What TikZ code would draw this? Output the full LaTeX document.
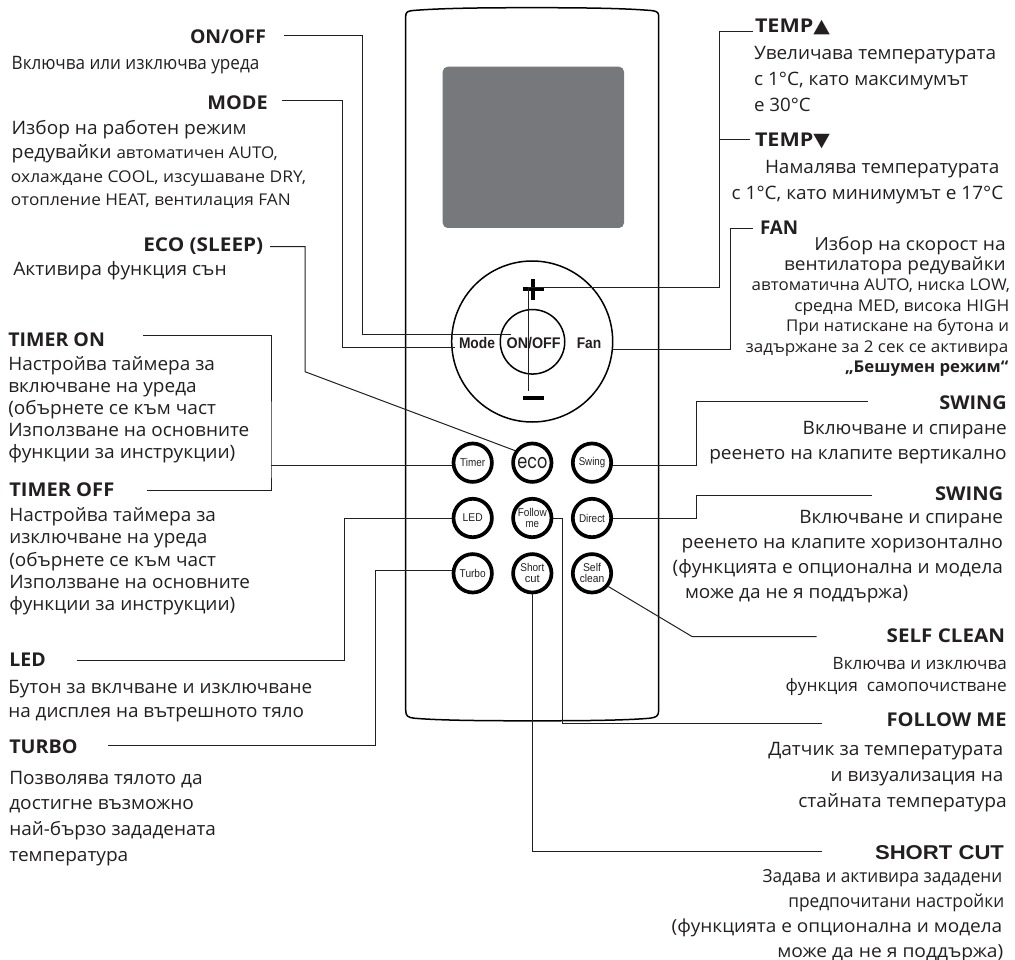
\documentclass[tikz,border=0pt]{standalone}
\usepackage{fontspec}
\usepackage{graphicx}
\setmainfont{Open Sans}
\newfontfamily\arialf{Liberation Sans}
\newfontfamily\symf{DejaVu Sans}
\newfontfamily\ecof{Poppins}
\definecolor{ink}{HTML}{231F20}
\definecolor{screen}{HTML}{77787B}
\newsavebox\fitbox
\newcommand\flr[2]{\mbox{\sbox\fitbox{#2}\pgfmathsetmacro\fitr{#1/\wd\fitbox}\scalebox{\fitr}[1]{\usebox\fitbox}}}
\newcommand\fl[2]{\sbox\fitbox{#2}\pgfmathsetmacro\fitr{#1/\wd\fitbox}\rule{0pt}{15pt}\scalebox{\fitr}[1]{\usebox\fitbox}}
\newcommand\sm{\fontsize{16.2}{16.2}\selectfont}
% left / right aligned text blocks: name, x, first baseline, line skip, size, lines
\newcommand\blkL[6]{\node[txt,anchor=north west,font=\fontsize{#5}{#4}\selectfont] (#1) at (#2,{#3-15}) {\vbox{\lineskiplimit=-100pt\let\\\cr\halign{##\hfil\cr #6\cr}}};}
\newcommand\blkR[6]{\node[txt,anchor=north east,font=\fontsize{#5}{#4}\selectfont] (#1) at (#2,{#3-15}) {\vbox{\lineskiplimit=-100pt\let\\\cr\halign{\hfil##\cr #6\cr}}};}
% headings: name, anchor, x, baseline, width, text
\newcommand\hd[6]{\node[txt,anchor=#2,font=\fontsize{19}{19}\selectfont\bfseries] (#1) at (#3,#4) {\fl{#5}{#6}};}
\tikzset{
  txt/.style={inner sep=0pt,outer sep=0pt,text=ink},
  conn/.style={draw=ink,line width=1pt},
  body/.style={draw=black,line width=1.5pt},
  ring/.style={circle,draw=black,line width=1.5pt,inner sep=0pt},
  btn/.style={circle,draw=black,line width=3.7pt,inner sep=0pt,minimum size=38.4pt,align=center,text=ink,font=\arialf\fontsize{11.3}{11}\selectfont},
  keylabel/.style={inner sep=0pt,anchor=base,text=ink,font=\arialf\bfseries\fontsize{15.4}{15.4}\selectfont},
  bar/.style={fill=black,draw=none}
}
\begin{document}
\begin{tikzpicture}[x=1pt,y=-1pt]
\path[use as bounding box] (0,0) rectangle (1015,960);
% remote body
\draw[body] (405.7,710) -- (405.7,16) .. controls (405.7,12) and (408,11.2) .. (412,10.6) .. controls (440,8.2) and (480,7.7) .. (532,7.7) .. controls (584,7.7) and (624,8.2) .. (652,10.6) .. controls (656,11.2) and (658.7,12) .. (658.7,16) -- (658.7,710) .. controls (658.7,716.5) and (656,717.3) .. (650,718.2) .. controls (625,720.4) and (584,720.8) .. (532,720.8) .. controls (480,720.8) and (440,720.4) .. (414,718.2) .. controls (408,717.3) and (405.7,716.5) .. (405.7,710) -- cycle;
\fill[screen,rounded corners=5pt] (442.7,66.7) rectangle (624,228);
% keypad
\node[ring,minimum size=161pt] (wheel) at (532.2,341.5) {};
\node[ring,minimum size=64.5pt] (onoff) at (532.5,341.8) {};
\node[keylabel] (lonoff) at (533.7,348.3) {\flr{54}{ON/OFF}};
\node[keylabel] (lmode) at (477,348.3) {\flr{36}{Mode}};
\node[keylabel] (lfan) at (589,348.3) {\flr{24.5}{Fan}};
\fill[bar] (523,287) rectangle (544,291);
\fill[bar] (531.3,279) rectangle (535.3,299.5);
\fill[bar] (523,396) rectangle (544,400);
\coordinate (plus) at (528,287.8);
\coordinate (minus) at (528,390.7);
\node[btn] (timer) at (472.7,462.7) {\flr{25}{Timer}};
\node[btn] (eco) at (532.3,462.7) {\flr{30}{\ecof\fontsize{20}{20}\selectfont eco}};
\node[btn] (swing) at (592,462.7) {\flr{26.5}{Swing}};
\node[btn] (ledb) at (472.7,518) {\flr{20}{LED}};
\node[btn] (follow) at (532.3,518) {\flr{29}{Follow}\\\flr{13.5}{me}};
\node[btn] (direct) at (592,518) {\flr{26}{Direct}};
\node[btn] (turbo) at (472.7,573.3) {\flr{26}{Turbo}};
\node[btn] (short) at (532.3,573.3) {\flr{24}{Short}\\\flr{15}{cut}};
\node[btn] (selfc) at (592,573.3) {\flr{18}{Self}\\\flr{24.5}{clean}};
% left texts
\hd{hOnOff}{base east}{266}{44}{76}{ON/OFF}
\blkL{tOnOff}{11.7}{69.3}{24}{18.5}{\fl{247.6}{Включва или изключва уреда}}
\hd{hMode}{base east}{267.7}{109.3}{60.4}{MODE}
\blkL{tMode}{11}{134.3}{23.9}{18.5}{\hspace*{.7pt}\fl{235}{Избор на работен режим}\\\hspace*{.7pt}\fl{266}{редувайки {\sm автоматичен AUTO,}}\\\fl{295}{\sm охлаждане COOL, изсушаване DRY,}\\\fl{279.7}{\sm отопление HEAT, вентилация FAN}}
\hd{hEco}{base east}{263.3}{251.7}{120}{ECO (SLEEP)}
\blkL{tEco}{13.3}{276}{24}{18.5}{\fl{213.4}{Активира функция сън}}
\hd{hTon}{base west}{8.3}{346}{96.7}{TIMER ON}
\blkL{tTon}{8.3}{370}{22.1}{18.5}{\fl{206.7}{Настройва таймера за}\\\fl{188.4}{включване на уреда}\\\fl{207.7}{(обърнете се към част}\\\fl{241}{Използване на основните}\\\fl{227}{функции за инструкции)}}
\hd{hToff}{base west}{9.3}{496}{105}{TIMER OFF}
\blkL{tToff}{9.3}{521.7}{22.25}{18.5}{\fl{206.7}{Настройва таймера за}\\\fl{198}{изключване на уреда}\\\fl{206.7}{(обърнете се към част}\\\fl{240.7}{Използване на основните}\\\fl{226}{функции за инструкции)}}
\hd{hLed}{base west}{9.3}{666.7}{36.4}{LED}
\blkL{tLed}{8.3}{693.3}{24.4}{18.5}{\fl{304}{Бутон за вклчване и изключване}\\\fl{295.7}{на дисплея на вътрешното тяло}}
\hd{hTurbo}{base west}{9.3}{753.3}{68.4}{TURBO}
\blkL{tTurbo}{9.3}{784}{25.9}{18.5}{\fl{193.4}{Позволява тялото да}\\\fl{184.7}{достигне възможно}\\\fl{206.7}{най-бързо зададената}\\\fl{119}{температура}}
% right texts
\hd{hTup}{base west}{755}{32.3}{75}{TEMP{\symf\mdseries ▲}}
\blkL{tTup}{754}{59.3}{26.2}{18.5}{\fl{242}{Увеличава температурата}\\\fl{214.3}{с 1°C, като максимумът}\\\fl{56.7}{е 30°C}}
\hd{hTdn}{base west}{755}{146.7}{75}{TEMP{\symf\mdseries ▼}}
\blkR{tTdn}{1003.3}{173.3}{26.7}{18.5}{\fl{234.3}{Намалява температурата}\hspace*{4pt}\\\fl{271.6}{с 1°C, като минимумът е 17°C}}
\hd{hFan}{base west}{760}{235}{38.3}{FAN}
\blkR{tFan}{1010}{250}{20.4}{18.5}{\fl{191.4}{\fontsize{18}{18}\selectfont Избор на скорост на}\hspace*{4.3pt}\\\fl{221.7}{\fontsize{18}{18}\selectfont вентилатора редувайки}\hspace*{4.3pt}\\\fl{258.3}{\sm автоматична AUTO, ниска LOW,}\\\fl{215}{\sm средна MED, висока HIGH}\hspace*{.7pt}\\\fl{223}{\sm При натискане на бутона и}\hspace*{1pt}\\\fl{262.6}{\sm задържане за 2 сек се активира}\hspace*{1.7pt}\\\fl{163.3}{\sm\bfseries „Бешумен режим“}\hspace*{1.7pt}}
\hd{hSw}{base east}{1006.7}{409.3}{67.4}{SWING}
\blkR{tSw}{1006.7}{434}{25.3}{18.5}{\fl{204}{Включване и спиране}\\\fl{297.4}{реенето на клапите вертикално}}
\hd{hDir}{base east}{1003.3}{500.7}{68.3}{SWING}
\blkL{tDir}{672.7}{523.3}{25}{18.5}{\hspace*{126.6pt}\fl{203.7}{Включване и спиране}\\\hspace*{9pt}\fl{321.3}{реенето на клапите хоризонтално}\\\fl{330.3}{(функцията е опционална и модела}\\\hspace*{12.3pt}\fl{223.3}{може да не я поддържа)}}
\hd{hSelf}{base east}{1005}{642.3}{118.3}{SELF CLEAN}
\blkR{tSelf}{1006.7}{669.3}{22.4}{17}{\fl{174}{Включва и изключва}\\\fl{221}{функция\ \ самопочистване}}
\hd{hFollow}{base east}{1006.7}{726.7}{120}{FOLLOW ME}
\blkR{tFollow}{1006.7}{755}{26.2}{18.5}{\fl{235}{Датчик за температурата}\hspace*{3.4pt}\\\fl{172.6}{и визуализация на}\hspace*{3.4pt}\\\fl{208.4}{стайната температура}}
\node[txt,anchor=base east,font=\arialf\bfseries\fontsize{20}{20}\selectfont] (hShort) at (1004,859) {\fl{129}{SHORT CUT}};
\blkR{tShort}{1004.3}{882.7}{25}{18}{\fl{239.6}{Задава и активира зададени}\hspace*{2pt}\\\fl{216}{предпочитани настройки}\\\fl{330.6}{(функцията е опционална и модела}\hspace*{2pt}\\\fl{226}{може да не я поддържа)}\hspace*{1pt}}
% connector points
\coordinate (eOn) at (284,35.3);
\coordinate (bOn) at (362,334.7);
\coordinate (iOn) at (510.7,334.7);
\coordinate (eMo) at (282,101);
\coordinate (bMo) at (342,347);
\coordinate (iMo) at (455,347);
\coordinate (eEc) at (270,246.7);
\coordinate (bEc) at (305,371.7);
\coordinate (eTon) at (143,335.7);
\coordinate (eToff) at (146.7,490.7);
\coordinate (bT) at (271,465.9);
\coordinate (eLed) at (76.7,660.7);
\coordinate (bLed) at (344,518);
\coordinate (eTu) at (108,745);
\coordinate (bTu) at (375,570.3);
\coordinate (eUp) at (753,32);
\coordinate (bUp) at (719.3,32);
\coordinate (eDn) at (750,140);
\coordinate (bDn) at (719.3,140);
\coordinate (eFan) at (752.7,228.7);
\coordinate (bFan) at (730.7,228.7);
\coordinate (eSw) at (867.7,401.7);
\coordinate (bSw) at (696,401.7);
\coordinate (eDir) at (871.7,495);
\coordinate (bDir) at (696,495);
\coordinate (eSc) at (816.7,636.7);
\coordinate (bSc) at (692.3,636.7);
\coordinate (eFo) at (821.7,723.3);
\coordinate (bFo) at (562.3,723.3);
\coordinate (eSh) at (821.7,851.7);
% connectors
\draw[conn] (eOn) -| (bOn) -- (iOn);
\draw[conn] (eMo) -| (bMo) -- (iMo);
\draw[conn] (eEc) -| (bEc) -- (eco.145);
\draw[conn] (eTon) -| (bT) |- (eToff);
\draw[conn] (bT) -- ([yshift=-3.2pt]timer.west);
\draw[conn] (eLed) -| (bLed) -- (ledb.west);
\draw[conn] (eTu) -| (bTu) -- ([yshift=3pt]turbo.west);
\draw[conn] (minus) -- (plus) -| (bUp) -- (eUp);
\draw[conn] (bDn) -- (eDn);
\draw[conn] ([yshift=-8.2pt]wheel.east) -| (bFan) -- (eFan);
\draw[conn] ([yshift=-2.4pt]swing.east) -| (bSw) -- (eSw);
\draw[conn] (direct.east) -| (bDir) -- (eDir);
\draw[conn] (selfc.-39) -- (bSc) -- (eSc);
\draw[conn] (follow.east) -| (bFo) -- (eFo);
\draw[conn] (short.south) |- (eSh);
\end{tikzpicture}
\end{document}
